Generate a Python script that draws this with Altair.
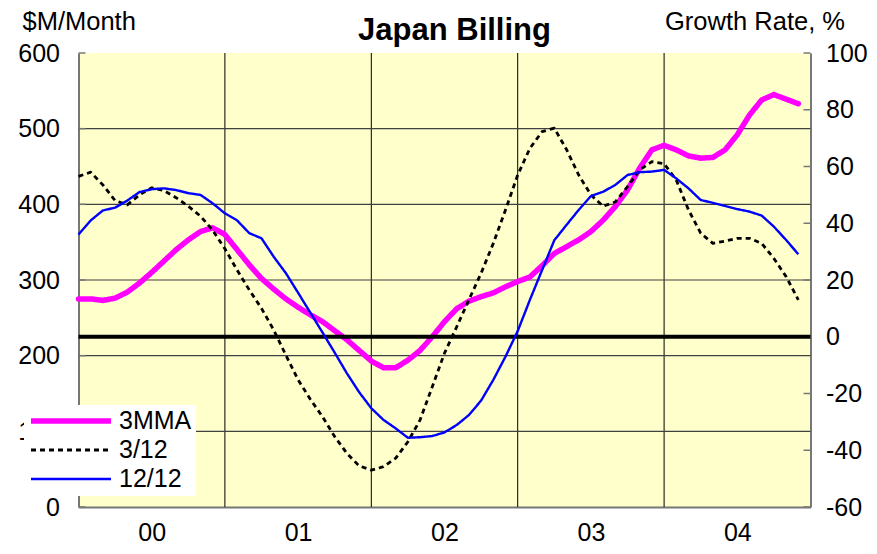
import json
import altair as alt
import pandas as pd

# ---------------- data ----------------
year_labels = ["00", "01", "02", "03", "04"]
months = list(range(60))
year_starts = [12, 24, 36, 48]
year_centers = [6, 18, 30, 42, 54]

series_names = ["3MMA", "3/12", "12/12"]
series_colors = ["#FF00FF", "#000000", "#0000FF"]

mma3 = [275, 275, 273, 276, 284, 296, 310, 325, 340, 353, 364, 369,
        360, 340, 320, 302, 288, 275, 264, 254, 245, 233, 221, 207,
        193, 184, 184, 194, 207, 225, 245, 262, 272, 278, 283, 291,
        298, 304, 319, 335, 344, 353, 364, 379, 397, 419, 448, 472,
        478, 472, 464, 461, 462, 472, 492, 518, 538, 545, 539, 533]

g312 = [56.5, 58, 53.5, 48, 46.5, 50, 52.5, 51.5, 49, 46, 42.5, 37.5,
        31, 23.5, 16.5, 10, 2.4, -6.5, -15.2, -22, -28.2, -35.2, -41.1, -45.5,
        -47, -45.8, -42.8, -37, -29.3, -17.6, -5.8, 3.5, 13, 22.4, 32.9, 44.7,
        57, 66.4, 72.3, 73.5, 66, 57, 50, 46, 47.5, 52.9, 58.8, 61.7,
        61, 55.2, 44.7, 36.5, 32.9, 33.7, 34.7, 34.7, 32.9, 27.6, 21.2, 13]

g1212 = [36, 41, 44.5, 45.5, 48, 51, 52, 52.3, 51.7, 50.6, 50, 47,
         43.5, 41, 36.5, 34.7, 28.2, 22.4, 15.5, 8.5, 1.5, -5.6, -12.9, -19.5,
         -25.2, -29.3, -32.3, -35.6, -35.4, -35, -33.7, -31.1, -27.6, -22.5, -15.2, -7,
         2, 13, 23.5, 34, 39.4, 44.7, 49.6, 51.1, 53.5, 57, 58, 58.2,
         58.8, 55.8, 52.3, 48.2, 47.2, 46.1, 45, 44.1, 42.7, 38.8, 34.1, 29.1]

left_ticks = [0, 100, 200, 300, 400, 500, 600]
left_grid = [100, 200, 300, 400, 500]
right_ticks = [-60, -40, -20, 0, 20, 40, 60, 80, 100]
zero_growth = [0]

df_mma = pd.DataFrame({"m": months, "v": mma3, "series": "3MMA"})
df_g = pd.concat([
    pd.DataFrame({"m": months, "g": g312, "series": "3/12"}),
    pd.DataFrame({"m": months, "g": g1212, "series": "12/12"}),
])

FONT = "Liberation Sans"
W, H = 732, 454
LBL = 25
TTL = 25.5

xscale = alt.Scale(domain=[0, 60], nice=False, zero=False)
lscale = alt.Scale(domain=[0, 600], nice=False)
rscale = alt.Scale(domain=[-60, 100], nice=False)

xaxis = alt.Axis(values=year_centers,
                 labelExpr=f"{json.dumps(year_labels)}[floor(datum.value/12)]",
                 grid=False, ticks=False, domainColor="#777777", domainWidth=2,
                 labelFont=FONT, labelFontSize=LBL, labelColor="black",
                 labelPadding=13, title=None)

left_axis = alt.Axis(orient="left", values=left_ticks, grid=False, ticks=False,
                     domainColor="#777777", domainWidth=2,
                     labelFont=FONT, labelFontSize=LBL, labelColor="black",
                     labelPadding=19,
                     title="$M/Month", titleAngle=0, titleAlign="left",
                     titleBaseline="alphabetic", titleX=-56.5, titleY=-24,
                     titleFont=FONT, titleFontSize=TTL, titleFontWeight="normal",
                     titleColor="black")

right_axis = alt.Axis(orient="right", values=right_ticks, grid=False, ticks=False,
                      domainColor="#777777", domainWidth=2,
                      labelExpr="toString(datum.value)",
                      labelFont=FONT, labelFontSize=LBL, labelColor="black",
                      labelPadding=15,
                      title="Growth Rate, %", titleAngle=0, titleAlign="right",
                      titleBaseline="alphabetic", titleX=34, titleY=-24,
                      titleFont=FONT, titleFontSize=TTL, titleFontWeight="normal",
                      titleColor="black")

legend = alt.Legend(orient="none", legendX=-54.5, legendY=352, title=None,
                    fillColor="white", padding=4, symbolType="stroke",
                    symbolSize=6400, clipHeight=24, labelFont=FONT, labelFontSize=LBL,
                    labelColor="black", labelOffset=5, rowPadding=4)

color = alt.Color("series:N", scale=alt.Scale(domain=series_names, range=series_colors),
                  legend=legend)
dash = alt.StrokeDash("series:N",
                      scale=alt.Scale(domain=series_names, range=[[1, 0], [5, 4], [1, 0]]),
                      legend=legend)
swidth = alt.StrokeWidth("series:N",
                         scale=alt.Scale(type="ordinal", domain=series_names, range=[5.5, 2.8, 2.4]),
                         legend=legend)

X = alt.X("m:Q", scale=xscale, axis=xaxis)

# ---- left (primary) layer ----
vgrid = alt.Chart(pd.DataFrame({"m": year_starts})).mark_rule(
    color="black", strokeWidth=1).encode(x=X)
hgrid = alt.Chart(pd.DataFrame({"v": left_grid})).mark_rule(
    color="#404040", strokeWidth=1.2).encode(y=alt.Y("v:Q", scale=lscale, axis=left_axis))
lticks = alt.Chart(pd.DataFrame({"v": left_ticks})).mark_rule(
    color="#777777", strokeWidth=1.5).encode(
    y=alt.Y("v:Q", scale=lscale, axis=left_axis), x=alt.value(0), x2=alt.value(7))
mma_line = alt.Chart(df_mma).mark_line(strokeCap="round", strokeJoin="round").encode(
    x=X, y=alt.Y("v:Q", scale=lscale, axis=left_axis),
    color=color, strokeDash=dash, strokeWidth=swidth)
left = alt.layer(vgrid, hgrid, lticks, mma_line)

# ---- right (secondary) layer ----
rticks = alt.Chart(pd.DataFrame({"g": right_ticks})).mark_rule(
    color="#777777", strokeWidth=1.5).encode(
    y=alt.Y("g:Q", scale=rscale, axis=right_axis), x=alt.value(W - 7), x2=alt.value(W))
zero = alt.Chart(pd.DataFrame({"g": zero_growth})).mark_rule(
    color="black", strokeWidth=4).encode(y=alt.Y("g:Q", scale=rscale, axis=right_axis))
g_lines = alt.Chart(df_g).mark_line(strokeJoin="round").encode(
    x=X, y=alt.Y("g:Q", scale=rscale, axis=right_axis),
    color=color, strokeDash=dash, strokeWidth=swidth)
right = alt.layer(rticks, zero, g_lines)

chart = alt.layer(left, right).resolve_scale(y="independent").properties(
    width=W, height=H,
    title=alt.TitleParams("Japan Billing", font=FONT, fontSize=31, fontWeight="bold",
                          color="black", anchor="middle", frame="group", dx=10,
                          offset=-62, baseline="alphabetic"),
    padding={"left": 70.5, "top": 45, "right": 58.5, "bottom": 38},
    autosize=alt.AutoSizeParams(type="none"),
    background="white",
).configure_view(fill="#FFFFCC", strokeWidth=0)

chart.save("out.html", embed_options={"renderer": "svg", "actions": False})
